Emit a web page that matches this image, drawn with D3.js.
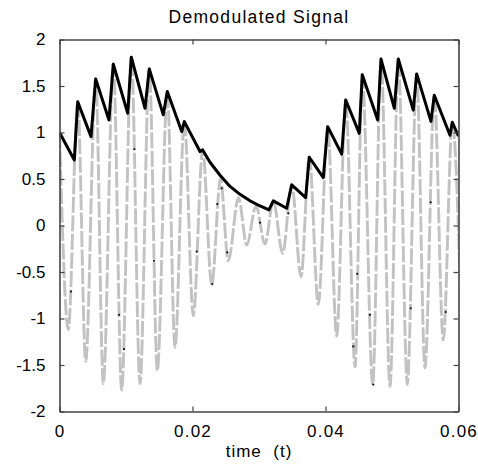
<!DOCTYPE html>
<html>
<head>
<meta charset="utf-8">
<script src="https://cdnjs.cloudflare.com/ajax/libs/d3/7.8.5/d3.min.js"></script>
<style>
  html, body { margin: 0; padding: 0; background: #fff; }
  svg { display: block; font-family: "Liberation Sans", Arial, sans-serif; }
</style>
</head>
<body>
<div id="chart"></div>
<script>
// ---- data ----
// modulated signal (gray dashed): times and values of each carrier peak / trough
const sigTime = [
  0.00000, 0.00132, 0.00274, 0.00394, 0.00544, 0.00659, 0.00809, 0.00935, 0.01080, 0.01211,
  0.01350, 0.01471, 0.01621, 0.01737, 0.01877, 0.02012, 0.02153, 0.02289, 0.02421, 0.02538,
  0.02692, 0.02815, 0.02955, 0.03090, 0.03215, 0.03356, 0.03492, 0.03632, 0.03756, 0.03892,
  0.04033, 0.04168, 0.04304, 0.04444, 0.04553, 0.04710, 0.04835, 0.04970, 0.05095, 0.05230,
  0.05371, 0.05496, 0.05636, 0.05771, 0.05907, 0.06038
];
const sigValue = [
  1.00, -1.12, 1.33, -1.46, 1.58, -1.70, 1.74, -1.77, 1.81, -1.70,
  1.69, -1.56, 1.44, -1.31, 1.12, -0.97, 0.81, -0.64, 0.50, -0.38,
  0.30, -0.21, 0.21, -0.20, 0.265, -0.30, 0.44, -0.55, 0.74, -0.85,
  1.06, -1.19, 1.35, -1.52, 1.62, -1.71, 1.79, -1.73, 1.79, -1.71,
  1.63, -1.53, 1.40, -1.23, 1.11, -0.95
];

// detector output (black): corners of the saw-tooth and points on the long decay
const envTime = [
  0.00000, 0.00223, 0.00274, 0.00474, 0.00544, 0.00744, 0.00809, 0.01026, 0.01080, 0.01286,
  0.01350, 0.01561, 0.01621, 0.01838, 0.01877, 0.02113, 0.02153, 0.02263, 0.02414, 0.02564,
  0.02714, 0.02865, 0.03015, 0.03150, 0.03215, 0.03416, 0.03492, 0.03702, 0.03756, 0.03967,
  0.04033, 0.04244, 0.04304, 0.04508, 0.04553, 0.04785, 0.04835, 0.05035, 0.05095, 0.05320,
  0.05371, 0.05586, 0.05636, 0.05872, 0.05907, 0.06000
];
const envValue = [
  1.00, 0.705, 1.33, 0.956, 1.576, 1.135, 1.734, 1.207, 1.81, 1.26,
  1.684, 1.19, 1.44, 1.01, 1.117, 0.795, 0.813, 0.68, 0.54, 0.42,
  0.335, 0.265, 0.21, 0.168, 0.265, 0.186, 0.437, 0.30, 0.734, 0.515,
  1.063, 0.767, 1.35, 0.99, 1.62, 1.135, 1.79, 1.26, 1.79, 1.24,
  1.63, 1.12, 1.40, 0.97, 1.11, 0.96
];

// small black sample dots sitting on the gray curve
const dotTime  = [0.00173, 0.00895, 0.00970, 0.01125, 0.01421, 0.02063, 0.02298, 0.02523, 0.02439, 0.02373,
                  0.03015, 0.03441, 0.04478, 0.04669, 0.04418, 0.04719, 0.05281, 0.05808, 0.05582];
const dotValue = [-0.71, -0.96, -1.33, 0.82, -0.38, -0.28, -0.63, -0.29, 0.40, 0.23,
                  0.03, 0.13, -0.52, -0.96, -1.30, -1.71, -0.89, -0.93, 0.25];

const xTicks = [0, 0.02, 0.04, 0.06];
const xTickLabels = ["0", "0.02", "0.04", "0.06"];
const yTicks = [-2, -1.5, -1, -0.5, 0, 0.5, 1, 1.5, 2];
const yTickLabels = ["-2", "-1.5", "-1", "-0.5", "0", "0.5", "1", "1.5", "2"];

const titleText = "Demodulated Signal";
const xLabelText = "time  (t)";

// ---- layout ----
const W = 478, H = 465;
const plot = { left: 59.5, right: 458.5, top: 39.5, bottom: 411.5 };

const svg = d3.select("#chart").append("svg")
  .attr("width", W)
  .attr("height", H);

const x = d3.scaleLinear().domain([0, 0.06]).range([plot.left, plot.right]);
const y = d3.scaleLinear().domain([-2, 2]).range([plot.bottom, plot.top]);

svg.append("clipPath").attr("id", "clip")
  .append("rect")
  .attr("x", plot.left).attr("y", plot.top)
  .attr("width", plot.right - plot.left)
  .attr("height", plot.bottom - plot.top);

const g = svg.append("g").attr("clip-path", "url(#clip)");

// gray modulated signal, smooth through the peaks and troughs
const sigData = sigTime.map((t, i) => [t, sigValue[i]]);
const sigLine = d3.line()
  .x(d => x(d[0]))
  .y(d => y(d[1]))
  .curve(d3.curveMonotoneX);

g.append("path")
  .datum(sigData)
  .attr("fill", "none")
  .attr("stroke", "#c2c2c2")
  .attr("stroke-width", 2.9)
  .attr("stroke-dasharray", "16,2.5")
  .attr("d", sigLine);

// black dots
g.selectAll("circle.dot")
  .data(dotTime.map((t, i) => [t, dotValue[i]]))
  .join("circle")
  .attr("class", "dot")
  .attr("cx", d => x(d[0]))
  .attr("cy", d => y(d[1]))
  .attr("r", 1.1)
  .attr("fill", "#111");

// black detector output
const envData = envTime.map((t, i) => [t, envValue[i]]);
g.append("path")
  .datum(envData)
  .attr("fill", "none")
  .attr("stroke", "#000")
  .attr("stroke-width", 3)
  .attr("stroke-linejoin", "round")
  .attr("d", d3.line().x(d => x(d[0])).y(d => y(d[1])));

// ---- axes (MATLAB-like box with inward ticks) ----
const tickLen = 5;
const fontSize = 17;

function styleAxis(sel) {
  sel.select(".domain").attr("stroke", "#444").attr("stroke-width", 1.6);
  sel.selectAll(".tick line").attr("stroke", "#444").attr("stroke-width", 1.2);
  sel.selectAll(".tick text")
    .attr("fill", "#000")
    .style("font-size", fontSize + "px")
    .style("font-family", "'Liberation Sans', Arial, sans-serif");
}

svg.append("g")
  .attr("transform", `translate(0,${plot.bottom})`)
  .call(d3.axisBottom(x).tickValues(xTicks)
    .tickFormat((d, i) => xTickLabels[i])
    .tickSizeInner(-tickLen).tickSizeOuter(0).tickPadding(13))
  .call(styleAxis)
  .selectAll(".tick text").attr("letter-spacing", "1.2px");

svg.append("g")
  .attr("transform", `translate(0,${plot.top})`)
  .call(d3.axisTop(x).tickValues(xTicks).tickFormat("")
    .tickSizeInner(-tickLen).tickSizeOuter(0))
  .call(styleAxis);

svg.append("g")
  .attr("transform", `translate(${plot.left},0)`)
  .call(d3.axisLeft(y).tickValues(yTicks)
    .tickFormat((d, i) => yTickLabels[i])
    .tickSizeInner(-tickLen).tickSizeOuter(0).tickPadding(14))
  .call(styleAxis);

svg.append("g")
  .attr("transform", `translate(${plot.right},0)`)
  .call(d3.axisRight(y).tickValues(yTicks).tickFormat("")
    .tickSizeInner(-tickLen).tickSizeOuter(0))
  .call(styleAxis);

// title and x label
svg.append("text")
  .attr("x", (plot.left + plot.right) / 2)
  .attr("y", 23)
  .attr("text-anchor", "middle")
  .attr("letter-spacing", "1.3px")
  .style("font-size", "17.5px")
  .text(titleText);

svg.append("text")
  .attr("x", (plot.left + plot.right) / 2)
  .attr("y", 457)
  .attr("text-anchor", "middle")
  .attr("letter-spacing", "1px")
  .style("font-size", "17px")
  .style("white-space", "pre")
  .attr("xml:space", "preserve")
  .text(xLabelText);
</script>
</body>
</html>
